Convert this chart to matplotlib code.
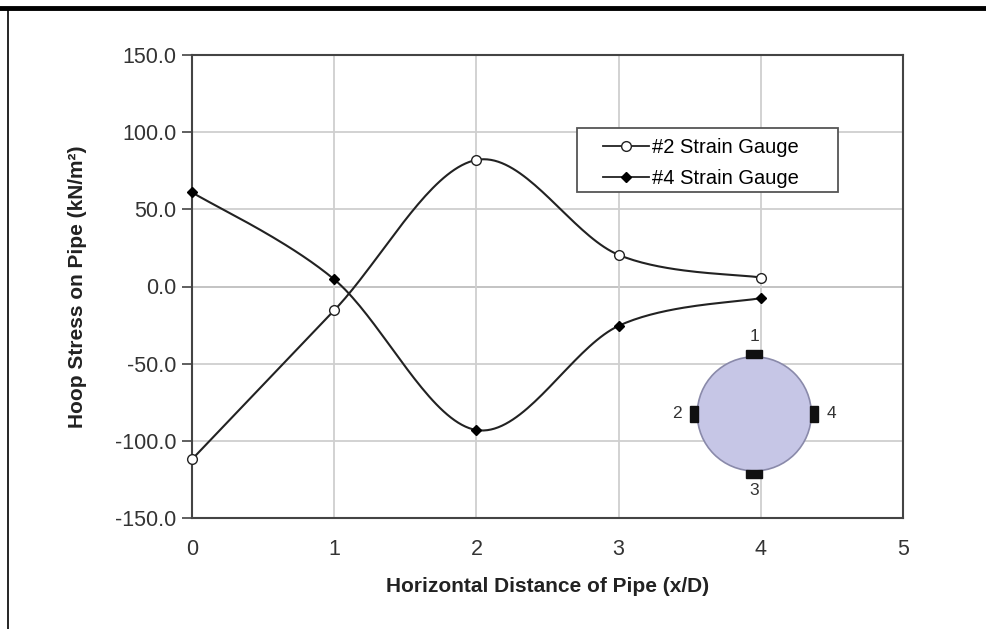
import numpy as np
import matplotlib

matplotlib.use("Agg")
import matplotlib.pyplot as plt
from matplotlib.lines import Line2D
from matplotlib.patches import Circle, Rectangle

plt.rcParams["font.family"] = ["Liberation Sans", "DejaVu Sans"]

# data
x_dist = [0, 1, 2, 3, 4]
gauge2 = [-112.0, -15.5, 82.0, 20.5, 5.8]
gauge4 = [61.0, 4.6, -93.0, -25.5, -7.5]
x_ticks = [0, 1, 2, 3, 4, 5]
y_ticks = [-150, -100, -50, 0, 50, 100, 150]
gauge_labels = ["1", "2", "3", "4"]


def smooth(xs, ys, n=40, tension=0.5):
    # Excel-like smoothed line (cardinal spline through the points)
    xs = np.asarray(xs, float)
    ys = np.asarray(ys, float)
    px = np.concatenate([[xs[0]], xs, [xs[-1]]])
    py = np.concatenate([[ys[0]], ys, [ys[-1]]])
    out_x, out_y = [], []
    t = np.linspace(0, 1, n)
    for i in range(1, len(px) - 2):
        p0, p1, p2, p3 = (np.array([px[j], py[j]]) for j in (i - 1, i, i + 1, i + 2))
        m1 = tension * (p2 - p0)
        m2 = tension * (p3 - p1)
        h00 = 2 * t**3 - 3 * t**2 + 1
        h10 = t**3 - 2 * t**2 + t
        h01 = -2 * t**3 + 3 * t**2
        h11 = t**3 - t**2
        pts = np.outer(h00, p1) + np.outer(h10, m1) + np.outer(h01, p2) + np.outer(h11, m2)
        out_x.extend(pts[:, 0])
        out_y.extend(pts[:, 1])
    return out_x, out_y


fig = plt.figure(figsize=(9.86, 6.29), dpi=100)
ax = fig.add_axes([192 / 986, 1 - 518 / 629, 711 / 986, 463 / 629])

line_color = "#222222"
sx, sy = smooth(x_dist, gauge2)
ax.plot(sx, sy, color=line_color, lw=1.5, zorder=3)
ax.plot(x_dist, gauge2, ls="none", marker="o", ms=7, mfc="white", mec=line_color, mew=1.0,
        zorder=4, clip_on=False)
sx, sy = smooth(x_dist, gauge4)
ax.plot(sx, sy, color=line_color, lw=1.5, zorder=3)
ax.plot(x_dist, gauge4, ls="none", marker="D", ms=5.5, mfc="black", mec="black",
        zorder=4, clip_on=False)

ax.set_xlim(0, 5)
ax.set_ylim(-150, 150)
ax.set_xticks(x_ticks)
ax.set_yticks(y_ticks)
ax.set_yticklabels([f"{v:.1f}" for v in y_ticks])
ax.grid(True, color="#cfcfcf", lw=1.3, zorder=0)
ax.axhline(0, color="#555555", lw=1.3, zorder=1)
for spine in ax.spines.values():
    spine.set_color("#444444")
    spine.set_linewidth(1.5)
ax.tick_params(axis="y", length=7, width=1.2, color="#444444", labelsize=15.5, pad=4, labelcolor="#333333")
ax.tick_params(axis="x", length=0, labelsize=15.5, pad=15, labelcolor="#333333")

ax.set_xlabel("Horizontal Distance of Pipe (x/D)", fontsize=15, fontweight="bold", labelpad=12, color="#222222")
ax.set_ylabel("Hoop Stress on Pipe (kN/m²)", fontsize=15, fontweight="bold", labelpad=20, color="#222222")

# legend box drawn separately so the padding matches the original
ax.add_patch(Rectangle((0.5415, 0.7041), 0.3671, 0.1382, transform=ax.transAxes,
                       facecolor="white", edgecolor="#555555", lw=1.3, zorder=5))
handles = [
    Line2D([], [], color=line_color, lw=1.3, marker="o", ms=7, mfc="white", mec=line_color),
    Line2D([], [], color=line_color, lw=1.3, marker="D", ms=5, mfc="black", mec="black"),
]
leg = ax.legend(handles, ["#2 Strain Gauge", "#4 Strain Gauge"], loc="upper left",
                bbox_to_anchor=(0.5781, 0.820), fontsize=14.5, frameon=False,
                handlelength=2.3, handletextpad=0.15, borderpad=0, labelspacing=0.6,
                borderaxespad=0)
leg.set_zorder(6)

# pipe sketch with gauge positions
inset = fig.add_axes([0.66, 0.197, 0.21, 0.29])
inset.set_xlim(-1.6, 1.6)
inset.set_ylim(-1.6, 1.6)
inset.set_aspect("equal")
inset.axis("off")
inset.add_patch(Circle((0, 0), 1.0, facecolor="#c6c6e6", edgecolor="#8a8aaa", lw=1.2))
inset.add_patch(Rectangle((-0.14, 0.98), 0.28, 0.14, color="#111111"))
inset.add_patch(Rectangle((-0.14, -1.12), 0.28, 0.14, color="#111111"))
inset.add_patch(Rectangle((-1.12, -0.14), 0.14, 0.28, color="#111111"))
inset.add_patch(Rectangle((0.98, -0.14), 0.14, 0.28, color="#111111"))
for lab, (lx, ly) in zip(gauge_labels, [(0, 1.36), (-1.35, 0), (0, -1.35), (1.35, 0)]):
    inset.text(lx, ly, lab, ha="center", va="center", fontsize=12.5, color="#333333")

# black page frame lines
fig.add_artist(Line2D([0, 1], [1 - 8 / 629, 1 - 8 / 629], color="black", lw=3.5, transform=fig.transFigure))
fig.add_artist(Line2D([8 / 986, 8 / 986], [0, 1 - 8 / 629], color="black", lw=1.2, transform=fig.transFigure))

fig.savefig("out.png", dpi=100)
